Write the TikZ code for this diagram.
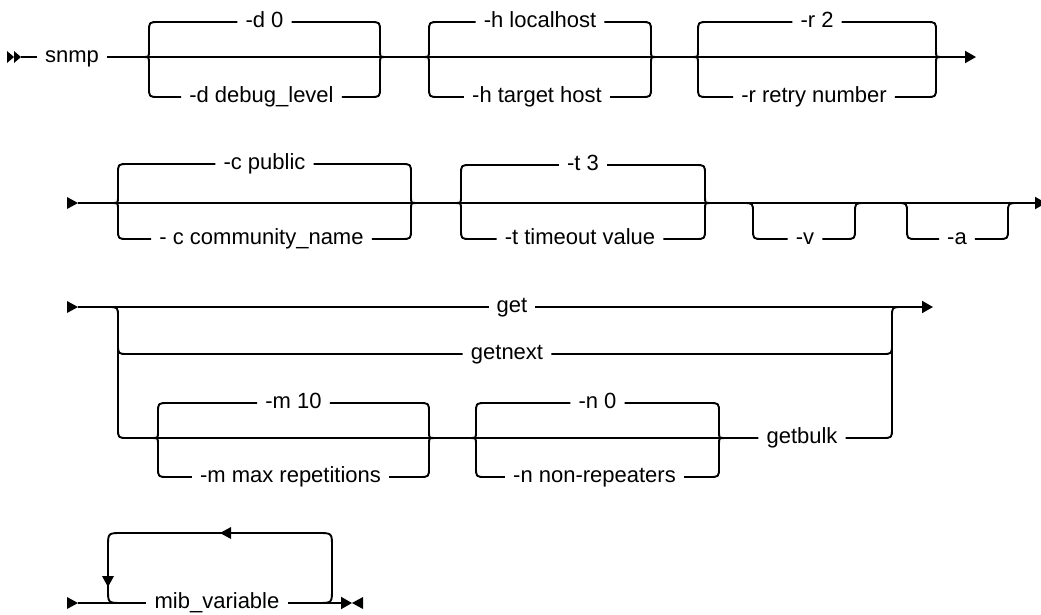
\documentclass[tikz,border=0pt]{standalone}
\usepackage{fontspec}
\setmainfont{Liberation Sans}
\usetikzlibrary{arrows.meta}
\tikzset{
  rail/.style={line width=1.9pt, line join=round},
  railend/.style={-{Triangle[length=11pt,width=12pt]}},
  lbl/.style={font=\fontsize{22}{26}\selectfont, text height=15pt, text depth=4pt,
    inner xsep=8pt, inner ysep=0pt},
  railtip/.pic={\fill (-11,-6) -- (0,0) -- (-11,6) -- cycle;},
}
% #1 name, #2 left tip x, #3 right tip x, #4 main y, #5 upper y, #6 lower y, #7 upper text, #8 lower text
\newcommand{\bracepair}[8]{%
  \node[lbl] (#1u) at ({(#2+#3)/2},#5) {#7};
  \node[lbl] (#1d) at ({(#2+#3)/2-3},#6) {#8};
  \draw[rail] (#1u.west) -- (#2+16,#5) .. controls (#2+6,#5) .. (#2+6,#5+10)
    -- (#2+6,#4-6) .. controls (#2+6,#4) .. (#2,#4)
    .. controls (#2+6,#4) .. (#2+6,#4+6) -- (#2+6,#6-10)
    .. controls (#2+6,#6) .. (#2+16,#6) -- (#1d.west);
  \draw[rail] (#1u.east) -- (#3-16,#5) .. controls (#3-6,#5) .. (#3-6,#5+10)
    -- (#3-6,#4-6) .. controls (#3-6,#4) .. (#3,#4)
    .. controls (#3-6,#4) .. (#3-6,#4+6) -- (#3-6,#6-10)
    .. controls (#3-6,#6) .. (#3-16,#6) -- (#1d.east);
}
\begin{document}
\begin{tikzpicture}[x=1pt,y=-1pt]
  \useasboundingbox (0,0) rectangle (1041,614);

  % first line
  \fill (7,51) -- (14,57) -- (7,63) -- cycle;
  \fill (14,51) -- (21,57) -- (14,63) -- cycle;
  \node[lbl] (snmp) at (72,57) {snmp};
  \draw[rail] (21,57) -- (snmp.west);
  \draw[rail,railend] (snmp.east) -- (976,57);
  \bracepair{dlev}{143}{386}{57}{22}{97}{-d 0}{-d debug\_level}
  \bracepair{host}{423}{657}{57}{22}{97}{-h localhost}{-h target host}
  \bracepair{rtry}{692}{942}{57}{22}{97}{-r 2}{-r retry number}

  % second line
  \pic at (78,203) {railtip};
  \draw[rail,railend] (78,203) -- (1046,203);
  \bracepair{comm}{112}{417}{203}{164}{239}{-c public}{- c community\_name}
  \bracepair{tout}{455}{711}{203}{165}{239}{-t 3}{-t timeout value}
  \node[lbl] (vflag) at (805,239) {-v};
  \draw[rail] (743,203) .. controls (753,203) .. (753,213) -- (753,229)
    .. controls (753,239) .. (763,239) -- (vflag.west);
  \draw[rail] (vflag.east) -- (845,239) .. controls (855,239) .. (855,229)
    -- (855,213) .. controls (855,203) .. (865,203);
  \node[lbl] (aflag) at (957,239) {-a};
  \draw[rail] (897,203) .. controls (907,203) .. (907,213) -- (907,229)
    .. controls (907,239) .. (917,239) -- (aflag.west);
  \draw[rail] (aflag.east) -- (998,239) .. controls (1008,239) .. (1008,229)
    -- (1008,213) .. controls (1008,203) .. (1018,203);

  % third line
  \pic at (78,307) {railtip};
  \node[lbl] (get) at (512,307) {get};
  \node[lbl] (getnext) at (507,354) {getnext};
  \node[lbl] (getbulk) at (802,438) {getbulk};
  \draw[rail] (78,307) -- (get.west);
  \draw[rail,railend] (get.east) -- (933,307);
  \draw[rail] (108,307) .. controls (118,307) .. (118,317) -- (118,428)
    .. controls (118,438) .. (128,438) -- (getbulk.west);
  \draw[rail] (118,344) .. controls (118,354) .. (128,354) -- (getnext.west);
  \draw[rail] (getnext.east) -- (882,354) .. controls (892,354) .. (892,344);
  \draw[rail] (getbulk.east) -- (882,438) .. controls (892,438) .. (892,428)
    -- (892,317) .. controls (892,307) .. (902,307);
  \bracepair{mrep}{152}{435}{438}{403}{477}{-m 10}{-m max repetitions}
  \bracepair{nrep}{470}{725}{438}{403}{477}{-n 0}{-n non-repeaters}

  % fourth line
  \pic at (78,603) {railtip};
  \node[lbl] (mib) at (217,603) {mib\_variable};
  \draw[rail] (78,603) -- (mib.west);
  \draw[rail,railend] (mib.east) -- (352,603);
  \pic[rotate=180] at (352,603) {railtip};
  \draw[rail] (318,603) .. controls (332,603) .. (332,589) -- (332,547)
    .. controls (332,533) .. (318,533) -- (122,533)
    .. controls (108,533) .. (108,547) -- (108,589)
    .. controls (108,603) .. (122,603);
  \pic[rotate=180] at (220,533) {railtip};
  \pic[rotate=-90] at (108,587) {railtip};
\end{tikzpicture}
\end{document}
